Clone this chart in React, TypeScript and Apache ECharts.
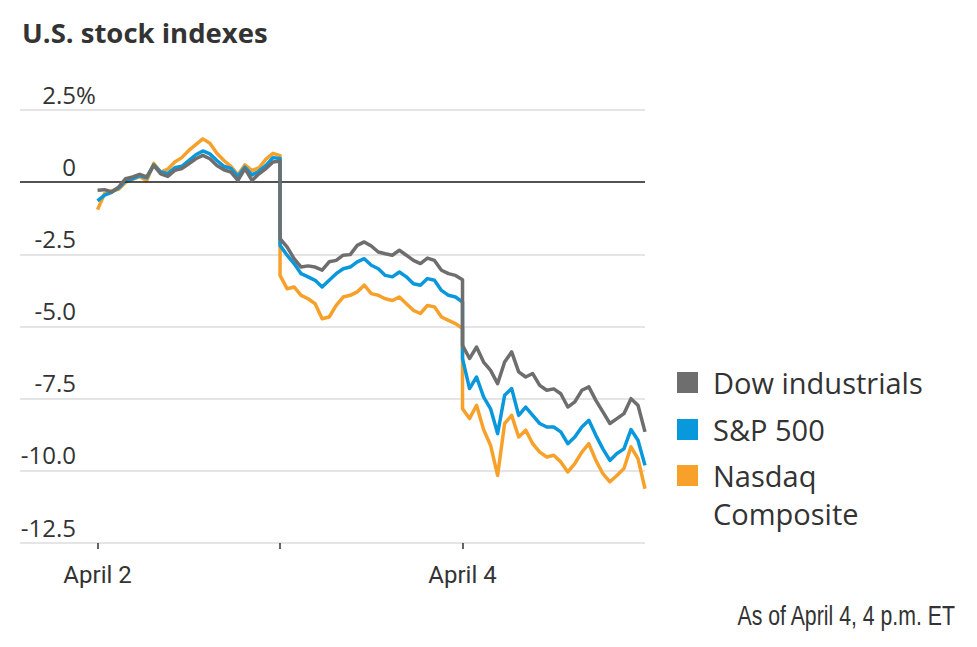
import React, { useEffect, useRef } from "react";
import * as echarts from "echarts";

// ---- data (percent change) ----
const seriesNames = ["Dow industrials", "S&P 500", "Nasdaq Composite"];
const legendLabels = ["Dow industrials", "S&P 500", "Nasdaq\nComposite"];
const seriesColors = ["#6e6e6e", "#0a98dc", "#f7a12b"];
const dayTickValues = [0, 1, 2];
const dayLabelValues = [0, 2];
const dayLabels = ["April 2", "April 3", "April 4"];
const stepsPerDay = 26;

const dowApr2 = [-0.28, -0.26, -0.34, -0.17, 0.12, 0.18, 0.27, 0.18, 0.58, 0.29, 0.2, 0.41, 0.47, 0.64, 0.81, 0.93, 0.81, 0.58, 0.43, 0.35, 0.06, 0.47, 0.06, 0.29, 0.47, 0.7, 0.73];
const dowApr3 = [-1.96, -2.24, -2.65, -2.94, -2.9, -2.94, -3.05, -2.76, -2.71, -2.53, -2.51, -2.19, -2.07, -2.21, -2.42, -2.48, -2.53, -2.36, -2.53, -2.71, -2.82, -2.63, -2.71, -3.05, -3.17, -3.23, -3.38];
const dowApr4 = [-5.65, -6.11, -5.71, -6.23, -6.52, -6.98, -6.23, -5.88, -6.57, -6.75, -6.63, -7.04, -7.21, -7.16, -7.33, -7.79, -7.61, -7.21, -7.09, -7.56, -7.96, -8.36, -8.19, -8.02, -7.5, -7.73, -8.65];

const spApr2 = [-0.65, -0.45, -0.35, -0.2, 0.05, 0.12, 0.22, 0.15, 0.6, 0.35, 0.3, 0.5, 0.55, 0.75, 0.95, 1.08, 0.98, 0.75, 0.55, 0.48, 0.2, 0.52, 0.25, 0.38, 0.58, 0.85, 0.82];
const spApr3 = [-2.19, -2.53, -2.82, -3.17, -3.28, -3.4, -3.63, -3.4, -3.17, -3.0, -2.94, -2.76, -2.65, -2.88, -3.0, -3.23, -3.28, -3.11, -3.28, -3.52, -3.57, -3.34, -3.4, -3.75, -3.92, -3.98, -4.15];
const spApr4 = [-6.11, -7.15, -6.75, -7.44, -7.85, -8.71, -7.38, -7.15, -8.08, -7.79, -8.08, -8.36, -8.48, -8.48, -8.65, -9.06, -8.83, -8.48, -8.25, -8.77, -9.24, -9.64, -9.4, -9.24, -8.57, -8.94, -9.81];

const nasdaqApr2 = [-0.95, -0.4, -0.3, -0.25, 0.0, 0.1, 0.2, 0.05, 0.65, 0.35, 0.45, 0.7, 0.85, 1.1, 1.3, 1.5, 1.35, 1.0, 0.75, 0.55, 0.25, 0.6, 0.4, 0.5, 0.8, 1.0, 0.92];
const nasdaqApr3 = [-3.23, -3.69, -3.63, -3.92, -4.04, -4.21, -4.73, -4.67, -4.27, -3.98, -3.92, -3.8, -3.57, -3.86, -3.92, -4.04, -4.1, -3.98, -4.21, -4.44, -4.55, -4.27, -4.32, -4.67, -4.79, -4.9, -5.07];
const nasdaqApr4 = [-7.85, -8.19, -7.73, -8.57, -9.12, -10.16, -8.36, -8.08, -8.83, -8.59, -9.06, -9.35, -9.52, -9.46, -9.69, -10.04, -9.75, -9.35, -9.06, -9.64, -10.1, -10.38, -10.16, -9.92, -9.17, -9.58, -10.62];

const seriesDays = [
  [dowApr2, dowApr3, dowApr4],
  [spApr2, spApr3, spApr4],
  [nasdaqApr2, nasdaqApr3, nasdaqApr4],
];

const toPoints = (days: number[][]) =>
  days.flatMap((vals, d) => vals.map((v, i) => [d + i / stepsPerDay, v]));

const LABEL_FONT = "'Open Sans', 'Noto Sans', sans-serif";
const AXIS_FONT = "Roboto, 'Open Sans', sans-serif";
const NOTE_FONT = "'Liberation Sans', Arial, sans-serif";

export default function App() {
  const ref = useRef<HTMLDivElement>(null);

  useEffect(() => {
    if (!ref.current) return;
    const chart = echarts.init(ref.current, undefined, { renderer: "svg" });

    const series: any[] = [2, 1, 0].map((k, order) => ({
      type: "line",
      name: seriesNames[k],
      data: toPoints(seriesDays[k]),
      showSymbol: false,
      z: 3 + order,
      lineStyle: { color: seriesColors[k], width: 3.5, join: "round" },
      itemStyle: { color: seriesColors[k] },
      markLine:
        order === 0
          ? {
              silent: true,
              symbol: "none",
              label: { show: false },
              lineStyle: { color: "#222", width: 1.5, type: "solid" },
              data: [{ yAxis: 0 }],
            }
          : undefined,
    }));

    const legendGraphics: any[] = [];
    const legendRectY = [372, 419, 465];
    legendLabels.forEach((label, k) => {
      legendGraphics.push({
        type: "rect",
        shape: { x: 677, y: legendRectY[k], width: 21, height: 21 },
        style: { fill: seriesColors[k] },
      });
      legendGraphics.push({
        type: "text",
        x: 713,
        y: legendRectY[k] - 9,
        style: {
          text: label,
          fill: "#333",
          font: `29px ${LABEL_FONT}`,
          lineHeight: 38,
          textVerticalAlign: "top",
        },
      });
    });

    chart.setOption({
      animation: false,
      backgroundColor: "#fff",
      grid: { left: 20, right: 332, top: 110, bottom: 104, containLabel: false },
      xAxis: {
        type: "value",
        min: -0.425,
        max: 3,
        position: "bottom",
        axisLine: { show: false, onZero: false },
        splitLine: { show: false },
        axisTick: {
          show: true,
          customValues: dayTickValues,
          length: 6,
          lineStyle: { color: "#333", width: 1.5 },
        },
        axisLabel: {
          customValues: dayLabelValues,
          formatter: (v: number) => dayLabels[Math.round(v)] || "",
          margin: 20,
          color: "#333",
          fontFamily: AXIS_FONT,
          fontSize: 24,
        },
      },
      yAxis: [
        {
          type: "value",
          min: -12.5,
          max: 2.5,
          interval: 2.5,
          axisLine: { show: false },
          axisTick: { show: false },
          splitLine: { lineStyle: { color: "#dcdcdc", width: 1.5 } },
          axisLabel: {
            inside: true,
            margin: 56,
            align: "right",
            verticalAlign: "bottom",
            padding: [0, 0, 4, 0],
            color: "#333",
            fontFamily: LABEL_FONT,
            fontSize: 24,
            formatter: (v: number) => (v === 0 ? "0" : v.toFixed(1)),
          },
        },
        {
          type: "value",
          min: -12.5,
          max: 2.5,
          interval: 2.5,
          position: "left",
          axisLine: { show: false },
          axisTick: { show: false },
          splitLine: { show: false },
          axisLabel: {
            inside: true,
            margin: 56,
            align: "left",
            verticalAlign: "bottom",
            padding: [0, 0, 4, 0],
            color: "#333",
            fontFamily: LABEL_FONT,
            fontSize: 24,
            formatter: (v: number) => (v === 2.5 ? "%" : ""),
          },
        },
      ],
      series,
      graphic: [
        {
          type: "text",
          x: 22,
          y: 32,
          style: {
            text: "U.S. stock indexes",
            fill: "#333",
            font: `bold 27.5px ${LABEL_FONT}`,
            textVerticalAlign: "middle",
          },
        },
        {
          type: "text",
          x: 955,
          y: 615,
          scaleX: 0.76,
          style: {
            text: "As of April 4, 4 p.m. ET",
            fill: "#333",
            font: `28px ${NOTE_FONT}`,
            textAlign: "right",
            textVerticalAlign: "middle",
          },
        },
        ...legendGraphics,
      ],
    });

    return () => chart.dispose();
  }, []);

  return (
    <div
      ref={ref}
      style={{ position: "fixed", left: 0, top: 0, width: 977, height: 647, background: "#fff" }}
    />
  );
}
